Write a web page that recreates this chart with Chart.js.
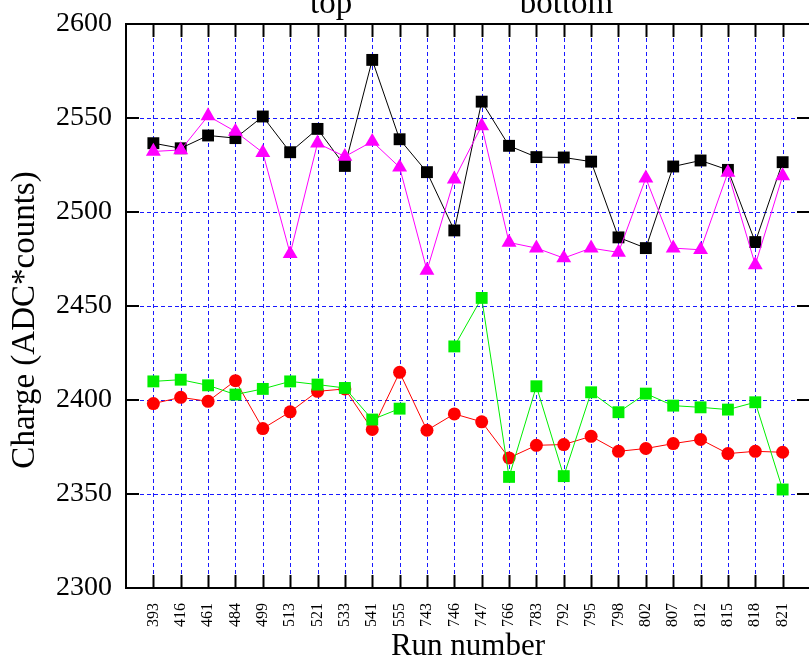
<!DOCTYPE html>
<html>
<head>
<meta charset="utf-8">
<script src="https://cdn.jsdelivr.net/npm/chart.js@4.4.1/dist/chart.umd.min.js"></script>
<style>
  html, body { margin: 0; padding: 0; background: #fff; overflow: hidden; }
  #wrap { position: relative; width: 830px; height: 659px; }
</style>
</head>
<body>
<div id="wrap"><canvas id="c"></canvas></div>
<script>
// ---- data ----
const runNumbers = ['393','416','461','484','499','513','521','533','541','555','743','746','747','766','783','792','795','798','802','807','812','815','818','821'];
const blackSeries   = [2536.6,2533.9,2540.7,2539.3,2550.8,2531.8,2544.2,2524.5,2580.9,2538.7,2521.2,2490.2,2558.7,2535.2,2529.2,2529.0,2526.8,2486.5,2480.8,2524.2,2527.4,2522.4,2484.0,2526.5];
const magentaSeries = [2532.2,2533.0,2551.1,2542.8,2531.6,2477.8,2536.6,2529.5,2537.5,2523.8,2468.9,2517.5,2545.8,2483.8,2480.8,2475.5,2480.8,2478.5,2518.0,2480.8,2479.9,2521.0,2471.9,2519.2];
const greenSeries   = [2409.9,2410.8,2407.8,2402.9,2405.9,2409.9,2408.2,2406.4,2389.6,2395.4,null,2428.5,2454.3,2359.1,2407.3,2359.5,2404.1,2393.5,2403.4,2397.0,2396.1,2394.9,2398.8,2352.4];
const redSeries     = [2398.1,2401.4,2399.3,2410.3,2384.8,2393.7,2404.6,2405.9,2384.3,2414.7,2383.9,2392.6,2388.4,2369.2,2375.9,2376.3,2380.7,2372.7,2374.2,2376.8,2379.0,2371.5,2372.7,2372.2];
const yTicks = [2300,2350,2400,2450,2500,2550,2600];
const topLabels = [{text:'top', at:6.5}, {text:'bottom', at:15.1}];
const xTitle = 'Run number';
const yTitle = 'Charge (ADC*counts)';

const SERIF = '"Liberation Serif", "Times New Roman", serif';
const toXY = arr => arr.map((v,i) => ({x:i, y:v}));

const frame = {
  id: 'frame',
  beforeDatasetsDraw(chart) {
    const {ctx, chartArea:a, scales:{x, y}} = chart;
    ctx.save();
    ctx.strokeStyle = 'rgba(0,0,255,0.9)';
    ctx.lineWidth = 1;
    ctx.setLineDash([4,3]);
    runNumbers.forEach((_, i) => {
      const px = Math.round(x.getPixelForValue(i)) + 0.5;
      ctx.beginPath(); ctx.moveTo(px, a.top); ctx.lineTo(px, a.bottom); ctx.stroke();
    });
    yTicks.slice(1, -1).forEach(v => {
      const py = Math.round(y.getPixelForValue(v)) + 0.5;
      ctx.beginPath(); ctx.moveTo(a.left, py); ctx.lineTo(a.right, py); ctx.stroke();
    });
    ctx.setLineDash([]);
    ctx.strokeStyle = '#000';
    ctx.lineWidth = 2;
    runNumbers.forEach((_, i) => {
      const px = Math.round(x.getPixelForValue(i)) + 0.5;
      ctx.beginPath(); ctx.moveTo(px, a.top); ctx.lineTo(px, a.top + 13); ctx.stroke();
      ctx.beginPath(); ctx.moveTo(px, a.bottom); ctx.lineTo(px, a.bottom - 13); ctx.stroke();
    });
    yTicks.slice(1, -1).forEach(v => {
      const py = Math.round(y.getPixelForValue(v));
      ctx.beginPath(); ctx.moveTo(a.left, py); ctx.lineTo(a.left + 13, py); ctx.stroke();
      ctx.beginPath(); ctx.moveTo(a.right, py); ctx.lineTo(a.right - 13, py); ctx.stroke();
    });
    ctx.strokeRect(a.left, a.top, a.right - a.left, a.bottom - a.top);
    ctx.restore();
  },
  afterDraw(chart) {
    const {ctx, scales:{x}} = chart;
    ctx.save();
    ctx.fillStyle = '#000';
    ctx.font = '33px ' + SERIF;
    ctx.textAlign = 'center';
    ctx.textBaseline = 'alphabetic';
    topLabels.forEach(t => ctx.fillText(t.text, x.getPixelForValue(t.at), 13));
    ctx.font = '31px ' + SERIF;
    ctx.fillText(xTitle, 468, 655);
    ctx.translate(34, 320);
    ctx.rotate(-Math.PI / 2);
    ctx.font = '33px ' + SERIF;
    ctx.fillText(yTitle, 0, 0);
    ctx.restore();
  }
};

function ds(label, arr, color, style, radius, order) {
  return {
    label, data: toXY(arr), order,
    borderColor: color, borderWidth: 1,
    backgroundColor: color,
    pointStyle: style, pointRadius: radius,
    pointBackgroundColor: color, pointBorderWidth: 0, pointBorderColor: color,
    spanGaps: false, tension: 0
  };
}

new Chart(document.getElementById('c'), {
  type: 'line',
  data: {
    datasets: [
      ds('black', blackSeries, '#000000', 'rect', 8.4, 3),
      ds('magenta', magentaSeries, '#ff00ff', 'triangle', 8.6, 1),
      ds('green', greenSeries, '#00ee00', 'rect', 8.4, 2),
      ds('red', redSeries, '#ff0000', 'circle', 6.5, 4)
    ]
  },
  options: {
    responsive: true,
    maintainAspectRatio: false,
    animation: false,
    events: [],
    layout: { padding: { top: 24, right: 20, left: 0, bottom: 0 } },
    plugins: { legend: { display: false }, tooltip: { enabled: false } },
    scales: {
      x: {
        type: 'linear', min: -1, max: 24,
        grid: { display: false, drawTicks: false },
        border: { display: false },
        afterFit(s) { s.height = 71; s.paddingLeft = 0; s.paddingRight = 0; },
        afterBuildTicks(s) { s.ticks = runNumbers.map((_, i) => ({value: i})); },
        ticks: {
          autoSkip: false, minRotation: 90, maxRotation: 90, padding: 15,
          color: '#000', font: { family: SERIF, size: 16 },
          callback: v => runNumbers[v] !== undefined ? runNumbers[v] : ''
        },
        title: { display: false }
      },
      y: {
        type: 'linear', min: 2300, max: 2600,
        grid: { display: false, drawTicks: false },
        border: { display: false },
        afterFit(s) { s.width = 126; s.paddingTop = 0; s.paddingBottom = 0; },
        afterBuildTicks(s) { s.ticks = yTicks.map(v => ({value: v})); },
        ticks: { padding: 14, color: '#000', font: { family: SERIF, size: 28 },
                 callback: v => String(v) },
        title: { display: false }
      }
    }
  },
  plugins: [frame]
});
</script>
</body>
</html>
